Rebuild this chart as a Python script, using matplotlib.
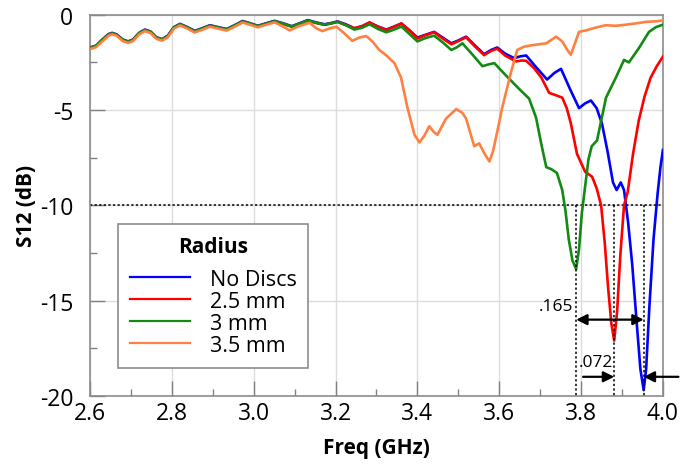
import numpy as np
import matplotlib.pyplot as plt
from matplotlib.ticker import MultipleLocator, FormatStrFormatter

plt.rcParams['font.family'] = ['Open Sans', 'DejaVu Sans']

# S12 traces read per radius (freq in GHz, S12 in dB)
freq_nodisc = [2.600, 2.615, 2.630, 2.645, 2.654, 2.665, 2.680, 2.693, 2.705, 2.720,
               2.734, 2.748, 2.762, 2.776, 2.790, 2.805, 2.820, 2.838, 2.856, 2.875,
               2.893, 2.913, 2.934, 2.953, 2.973, 2.992, 3.010, 3.030, 3.051, 3.072,
               3.093, 3.112, 3.132, 3.152, 3.173, 3.190, 3.205, 3.225, 3.246, 3.265,
               3.283, 3.304, 3.324, 3.343, 3.361, 3.380, 3.400, 3.420, 3.441, 3.462,
               3.483, 3.500, 3.519, 3.540, 3.563, 3.580, 3.595, 3.615, 3.637, 3.652,
               3.666, 3.690, 3.717, 3.735, 3.751, 3.773, 3.795, 3.810, 3.824, 3.838,
               3.851, 3.865, 3.878, 3.887, 3.897, 3.905, 3.915, 3.925, 3.935, 3.945,
               3.953, 3.959, 3.967, 3.977, 3.987, 3.994, 4.000]
s12_nodisc = [-1.72, -1.62, -1.30, -1.02, -0.95, -1.03, -1.30, -1.40, -1.30, -0.95,
              -0.78, -0.88, -1.18, -1.28, -1.10, -0.65, -0.48, -0.65, -0.85, -0.70,
              -0.55, -0.65, -0.75, -0.55, -0.33, -0.45, -0.58, -0.45, -0.32, -0.45,
              -0.60, -0.45, -0.28, -0.40, -0.50, -0.43, -0.35, -0.50, -0.72, -0.60,
              -0.42, -0.62, -0.78, -0.62, -0.47, -0.80, -1.20, -1.05, -0.90, -1.20,
              -1.50, -1.35, -1.15, -1.60, -2.07, -1.85, -1.72, -2.05, -2.28, -2.18,
              -2.14, -2.75, -3.40, -3.05, -2.84, -3.90, -4.90, -4.65, -4.50, -4.90,
              -5.70, -7.20, -8.80, -9.20, -8.80, -9.20, -10.9, -13.1, -15.9, -18.6,
              -19.7, -18.6, -15.3, -11.8, -9.4, -8.0, -7.1]

freq_r25 = [2.600, 2.615, 2.630, 2.645, 2.654, 2.665, 2.680, 2.693, 2.705, 2.720,
            2.734, 2.748, 2.762, 2.776, 2.790, 2.805, 2.820, 2.838, 2.856, 2.875,
            2.893, 2.913, 2.934, 2.953, 2.973, 2.992, 3.010, 3.030, 3.051, 3.072,
            3.093, 3.112, 3.132, 3.152, 3.173, 3.190, 3.205, 3.225, 3.246, 3.265,
            3.283, 3.304, 3.324, 3.343, 3.361, 3.380, 3.400, 3.420, 3.441, 3.462,
            3.483, 3.500, 3.519, 3.540, 3.563, 3.580, 3.595, 3.615, 3.641, 3.655,
            3.666, 3.685, 3.703, 3.722, 3.738, 3.754, 3.765, 3.775, 3.790, 3.810,
            3.827, 3.838, 3.849, 3.858, 3.866, 3.874, 3.881, 3.888, 3.896, 3.905,
            3.914, 3.927, 3.941, 3.955, 3.970, 3.985, 4.000]
s12_r25 = [-1.75, -1.65, -1.33, -1.05, -0.98, -1.06, -1.33, -1.43, -1.33, -0.98,
           -0.81, -0.91, -1.21, -1.31, -1.13, -0.68, -0.51, -0.68, -0.88, -0.73,
           -0.58, -0.68, -0.78, -0.58, -0.36, -0.48, -0.61, -0.48, -0.35, -0.48,
           -0.63, -0.48, -0.31, -0.43, -0.53, -0.45, -0.37, -0.53, -0.70, -0.60,
           -0.40, -0.63, -0.80, -0.63, -0.45, -0.82, -1.25, -1.07, -0.92, -1.25,
           -1.55, -1.38, -1.18, -1.65, -2.12, -1.90, -1.78, -2.15, -2.45, -2.40,
           -2.42, -2.80, -3.30, -4.10, -4.22, -4.35, -4.90, -5.70, -7.30, -8.24,
           -8.50, -9.10, -10.0, -12.0, -14.3, -16.2, -17.1, -15.6, -12.6, -10.0,
           -9.30, -7.30, -5.55, -4.30, -3.30, -2.70, -2.20]

freq_r3 = [2.600, 2.615, 2.630, 2.645, 2.654, 2.665, 2.680, 2.693, 2.705, 2.720,
           2.734, 2.748, 2.762, 2.776, 2.790, 2.805, 2.820, 2.838, 2.856, 2.875,
           2.893, 2.913, 2.934, 2.953, 2.973, 2.992, 3.010, 3.030, 3.051, 3.072,
           3.093, 3.112, 3.132, 3.152, 3.173, 3.190, 3.205, 3.225, 3.246, 3.265,
           3.283, 3.304, 3.324, 3.343, 3.361, 3.380, 3.400, 3.420, 3.441, 3.462,
           3.483, 3.497, 3.510, 3.535, 3.559, 3.575, 3.588, 3.617, 3.649, 3.673,
           3.690, 3.703, 3.715, 3.727, 3.741, 3.754, 3.762, 3.770, 3.779, 3.788,
           3.795, 3.802, 3.810, 3.818, 3.826, 3.839, 3.861, 3.885, 3.905, 3.917,
           3.941, 3.966, 3.983, 4.000]
s12_r3 = [-1.74, -1.64, -1.32, -1.04, -0.97, -1.05, -1.32, -1.42, -1.32, -0.97,
          -0.80, -0.90, -1.20, -1.30, -1.12, -0.67, -0.50, -0.67, -0.87, -0.72,
          -0.57, -0.67, -0.77, -0.57, -0.35, -0.47, -0.60, -0.47, -0.34, -0.47,
          -0.62, -0.47, -0.30, -0.42, -0.52, -0.45, -0.38, -0.55, -0.78, -0.68,
          -0.50, -0.75, -0.92, -0.78, -0.62, -1.00, -1.40, -1.22, -1.10, -1.45,
          -1.85, -1.70, -1.50, -2.10, -2.70, -2.60, -2.54, -3.20, -3.90, -4.40,
          -5.40, -6.80, -8.00, -8.10, -8.30, -9.20, -10.3, -11.8, -12.9, -13.35,
          -12.3, -10.4, -9.00, -7.60, -6.90, -6.60, -4.35, -3.30, -2.37, -2.50,
          -1.76, -0.90, -0.65, -0.52]

freq_r35 = [2.600, 2.615, 2.630, 2.645, 2.654, 2.665, 2.680, 2.693, 2.705, 2.720,
            2.734, 2.748, 2.762, 2.776, 2.790, 2.805, 2.820, 2.838, 2.856, 2.875,
            2.893, 2.913, 2.934, 2.953, 2.973, 2.992, 3.010, 3.030, 3.051, 3.070,
            3.088, 3.110, 3.137, 3.152, 3.168, 3.185, 3.202, 3.220, 3.241, 3.258,
            3.275, 3.290, 3.307, 3.325, 3.344, 3.360, 3.376, 3.393, 3.405, 3.417,
            3.429, 3.440, 3.449, 3.470, 3.495, 3.510, 3.519, 3.530, 3.539, 3.551,
            3.563, 3.576, 3.585, 3.592, 3.600, 3.607, 3.618, 3.629, 3.644, 3.660,
            3.680, 3.715, 3.739, 3.754, 3.765, 3.775, 3.785, 3.795, 3.812, 3.835,
            3.860, 3.885, 3.910, 3.935, 3.960, 3.980, 4.000]
s12_r35 = [-1.80, -1.70, -1.40, -1.10, -1.03, -1.10, -1.38, -1.48, -1.38, -1.03,
           -0.86, -0.96, -1.26, -1.36, -1.18, -0.73, -0.56, -0.73, -0.93, -0.78,
           -0.63, -0.73, -0.83, -0.63, -0.41, -0.53, -0.66, -0.53, -0.40, -0.60,
           -0.82, -0.60, -0.42, -0.70, -0.86, -0.72, -0.63, -0.95, -1.37, -1.20,
           -1.12, -1.40, -1.85, -2.15, -2.54, -3.30, -4.90, -6.30, -6.70, -6.35,
           -5.85, -6.15, -6.30, -5.45, -4.95, -5.15, -5.45, -6.25, -6.90, -6.75,
           -7.25, -7.70, -7.15, -6.45, -5.65, -4.90, -3.95, -3.00, -1.85, -1.68,
           -1.60, -1.50, -1.15, -1.40, -1.80, -2.10, -1.50, -0.90, -0.82, -0.68,
           -0.55, -0.58, -0.52, -0.45, -0.37, -0.35, -0.30]

labels = ['No Discs', '2.5 mm', '3 mm', '3.5 mm']
colors = ['#0000ff', '#ff0000', '#138a13', '#ff8040']

fig = plt.figure(figsize=(6.82, 4.77), dpi=100)
ax = fig.add_axes([0.132, 0.168, 0.840, 0.799])

series = [(freq_nodisc, s12_nodisc), (freq_r25, s12_r25),
          (freq_r3, s12_r3), (freq_r35, s12_r35)]
for (f, s), lab, c in zip(series, labels, colors):
    ax.plot(f, s, color=c, lw=1.9, label=lab, zorder=3)

# -10 dB level and the resonance markers
ax.axhline(-10, color='black', ls=(0, (1.5, 1.5)), lw=1.1, zorder=2)
f_min = {}
for (f, s), lab in zip(series[:3], labels[:3]):
    f_min[lab] = f[int(np.argmin(s))]
    ax.plot([f_min[lab], f_min[lab]], [-10, -20], color='black',
            ls=(0, (1.5, 1.5)), lw=1.1, zorder=4)

f_g, f_r, f_b = f_min['3 mm'], f_min['2.5 mm'], f_min['No Discs']
arrow = dict(arrowstyle='<|-|>', color='black', lw=1.6, mutation_scale=16,
             shrinkA=0, shrinkB=0)
ax.annotate('', xy=(f_g, -16.0), xytext=(f_b, -16.0), arrowprops=arrow, zorder=5)
ax.text(f_g - 0.006, -15.3, '.%03d' % round((f_b - f_g) * 1000), ha='right',
        va='center', fontsize=12.5)

one_way = dict(arrowstyle='-|>', color='black', lw=1.6, mutation_scale=16,
               shrinkA=0, shrinkB=0)
ax.annotate('', xy=(f_r, -19.0), xytext=(f_g + 0.017, -19.0),
            arrowprops=one_way, zorder=5)
ax.annotate('', xy=(f_b, -19.0), xytext=(f_b + 0.085, -19.0),
            arrowprops=one_way, zorder=5, annotation_clip=False)
ax.text(f_r - 0.002, -18.2, '.%03d' % round((f_b - f_r) * 1000), ha='right',
        va='center', fontsize=12.5)

ax.set_xlim(2.6, 4.0)
ax.set_ylim(-20, 0)
ax.xaxis.set_major_locator(MultipleLocator(0.2))
ax.xaxis.set_minor_locator(MultipleLocator(0.1))
ax.yaxis.set_major_locator(MultipleLocator(5))
ax.yaxis.set_minor_locator(MultipleLocator(2.5))
ax.xaxis.set_major_formatter(FormatStrFormatter('%.1f'))
ax.yaxis.set_major_formatter(FormatStrFormatter('%d'))
ax.tick_params(which='both', direction='in', color='#808080', labelsize=16.5)
ax.tick_params(axis='y', which='major', length=11, width=1, pad=12)
ax.tick_params(axis='x', which='major', length=11, width=1, pad=4)
ax.tick_params(which='minor', length=5, width=1)
ax.grid(True, which='major', color='#dcdcdc', lw=1)
for sp in ax.spines.values():
    sp.set_color('#8c8c8c')
    sp.set_linewidth(1.2)

ax.set_xlabel('Freq (GHz)', fontsize=15, fontweight='bold', labelpad=8)
ax.set_ylabel('S12 (dB)', fontsize=15, fontweight='bold', labelpad=2)

leg = ax.legend(title='Radius', loc='upper left', bbox_to_anchor=(0.049, 0.451),
                borderaxespad=0, fontsize=15.5,
                title_fontproperties={'weight': 'bold', 'size': 15},
                handlelength=2.8, handletextpad=0.9, labelspacing=0.05,
                borderpad=0.55, fancybox=False, framealpha=1, edgecolor='#8c8c8c')
leg.get_frame().set_linewidth(1.2)
# a little more room between the title and the entries
leg._legend_box.sep = 8.5
for h in leg.get_lines():
    h.set_linewidth(1.6)

fig.savefig('out.png', dpi=100)
